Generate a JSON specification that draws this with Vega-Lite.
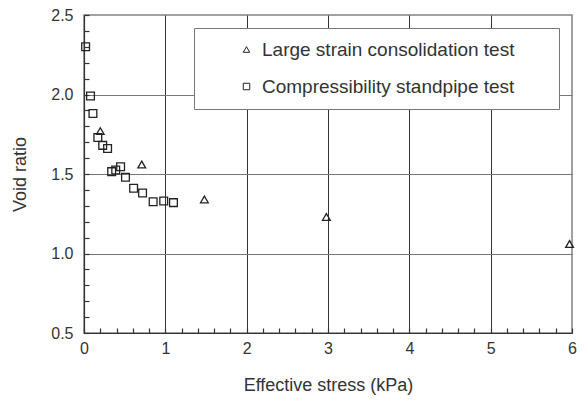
{
  "$schema": "https://vega.github.io/schema/vega-lite/v6.json",
  "width": 488,
  "height": 318,
  "autosize": {"type": "none"},
  "padding": {"left": 84, "top": 15, "right": 12, "bottom": 73},
  "background": "white",
  "config": {
    "view": {"stroke": "#8a8080", "strokeWidth": 1.5},
    "font": "Liberation Sans",
    "axis": {
      "labelFont": "Liberation Sans",
      "titleFont": "Liberation Sans",
      "labelFontSize": 16,
      "titleFontSize": 18,
      "labelColor": "#333",
      "titleColor": "#333",
      "titleFontWeight": "normal",
      "domainColor": "#333",
      "domainWidth": 1.2,
      "labelOverlap": false,
      "labelFlush": false
    }
  },
  "data": {
    "values": [
      {"test": "Large strain consolidation test", "stress": 0.2, "void": 1.77},
      {"test": "Large strain consolidation test", "stress": 0.71, "void": 1.56},
      {"test": "Large strain consolidation test", "stress": 1.48, "void": 1.34},
      {"test": "Large strain consolidation test", "stress": 2.98, "void": 1.23},
      {"test": "Large strain consolidation test", "stress": 5.97, "void": 1.06},
      {"test": "Compressibility standpipe test", "stress": 0.02, "void": 2.3},
      {"test": "Compressibility standpipe test", "stress": 0.08, "void": 1.99},
      {"test": "Compressibility standpipe test", "stress": 0.11, "void": 1.88},
      {"test": "Compressibility standpipe test", "stress": 0.17, "void": 1.73},
      {"test": "Compressibility standpipe test", "stress": 0.23, "void": 1.68},
      {"test": "Compressibility standpipe test", "stress": 0.29, "void": 1.66},
      {"test": "Compressibility standpipe test", "stress": 0.34, "void": 1.515},
      {"test": "Compressibility standpipe test", "stress": 0.39, "void": 1.525},
      {"test": "Compressibility standpipe test", "stress": 0.45, "void": 1.545},
      {"test": "Compressibility standpipe test", "stress": 0.51, "void": 1.48},
      {"test": "Compressibility standpipe test", "stress": 0.61, "void": 1.41},
      {"test": "Compressibility standpipe test", "stress": 0.72, "void": 1.38},
      {"test": "Compressibility standpipe test", "stress": 0.85, "void": 1.325},
      {"test": "Compressibility standpipe test", "stress": 0.98, "void": 1.33},
      {"test": "Compressibility standpipe test", "stress": 1.1, "void": 1.32}
    ]
  },
  "mark": {"type": "point", "filled": false, "stroke": "#222", "strokeWidth": 1.3, "size": 60, "opacity": 1},
  "encoding": {
    "x": {
      "field": "stress",
      "type": "quantitative",
      "scale": {"domain": [0, 6], "nice": false, "zero": false},
      "axis": {
        "title": "Effective stress (kPa)",
        "values": [0, 0.2, 0.4, 0.6, 0.8, 1, 1.2, 1.4, 1.6, 1.8, 2, 2.2, 2.4, 2.6, 2.8, 3, 3.2, 3.4, 3.6, 3.8, 4, 4.2, 4.4, 4.6, 4.8, 5, 5.2, 5.4, 5.6, 5.8, 6],
        "labelExpr": "abs(datum.value - round(datum.value)) < 0.001 ? format(datum.value, 'd') : ''",
        "labelPadding": 12,
        "titlePadding": 20,
        "ticks": true,
        "tickSize": -5,
        "tickColor": "#333",
        "tickWidth": 1.2,
        "grid": true,
        "gridColor": "#333",
        "gridOpacity": {"condition": {"test": "abs(datum.value - round(datum.value)) < 0.001 && datum.value > 0.1 && datum.value < 5.9", "value": 1}, "value": 0}
      }
    },
    "y": {
      "field": "void",
      "type": "quantitative",
      "scale": {"domain": [0.5, 2.5], "nice": false, "zero": false},
      "axis": {
        "title": "Void ratio",
        "values": [0.5, 0.6, 0.7, 0.8, 0.9, 1.0, 1.1, 1.2, 1.3, 1.4, 1.5, 1.6, 1.7, 1.8, 1.9, 2.0, 2.1, 2.2, 2.3, 2.4, 2.5],
        "labelExpr": "abs(datum.value*2 - round(datum.value*2)) < 0.001 ? format(datum.value, '.1f') : ''",
        "labelPadding": 16,
        "titlePadding": 21,
        "ticks": true,
        "tickSize": -5,
        "tickColor": "#333",
        "tickWidth": 1.2,
        "grid": true,
        "gridColor": "#777",
        "gridOpacity": {"condition": {"test": "abs(datum.value*2 - round(datum.value*2)) < 0.001 && datum.value > 0.55 && datum.value < 2.45", "value": 1}, "value": 0}
      }
    },
    "shape": {
      "field": "test",
      "type": "nominal",
      "scale": {"domain": ["Large strain consolidation test", "Compressibility standpipe test"], "range": ["triangle-up", "square"]},
      "legend": {
        "title": null,
        "orient": "none",
        "legendX": 110,
        "legendY": 13,
        "strokeColor": "#777",
        "fillColor": "white",
        "padding": 12,
        "symbolOffset": 31,
        "labelFont": "Liberation Sans",
        "labelFontSize": 19,
        "labelColor": "#333",
        "symbolSize": 42,
        "symbolStrokeWidth": 1,
        "symbolStrokeColor": "#222",
        "symbolFillColor": "white",
        "rowPadding": 17,
        "labelOffset": 6,
        "labelLimit": 500,
        "labelExpr": "datum.label + '\u00a0\u00a0\u00a0\u00a0\u00a0\u00a0\u200b'"
      }
    }
  }
}
